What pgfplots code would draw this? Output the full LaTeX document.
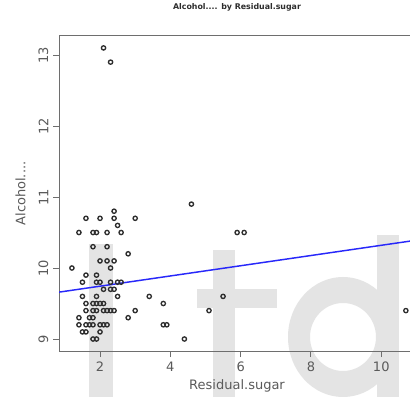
\documentclass[border=0pt]{standalone}
\usepackage{fontspec}
\setmainfont{DejaVu Sans}
\usepackage{pgfplots}
\pgfplotsset{compat=1.18}
\definecolor{wm}{RGB}{228,228,228}
\definecolor{axgray}{RGB}{110,110,110}
\definecolor{txtgray}{RGB}{90,90,90}
\definecolor{ptgray}{RGB}{45,45,45}
\definecolor{regblue}{RGB}{40,40,250}
\begin{document}
\begin{tikzpicture}
\useasboundingbox (0,0) rectangle (307.5pt,297pt);
\fill[white] (0,0) rectangle (307.5pt,297pt);
% watermark
\fill[wm] (66.75pt,-3pt) rectangle (84.75pt,114pt);
\fill[wm] (159.4pt,-3pt) rectangle (176.25pt,109.5pt);
\fill[wm] (147.5pt,66.2pt) rectangle (207.5pt,80pt);
\fill[wm] (282.5pt,-3pt) rectangle (299.5pt,120.75pt);
\fill[wm,even odd rule] (257.25pt,44.25pt) ellipse [x radius=41.25pt, y radius=45pt]
  (257.25pt,44.25pt) ellipse [x radius=24.75pt, y radius=25.5pt];
\begin{axis}[
  at={(44.25pt,33.75pt)}, anchor=south west,
  scale only axis, width=267pt, height=236.25pt,
  xmin=0.833, xmax=10.96, ymin=8.831, ymax=13.268,
  axis line style={axgray, line width=0.75pt},
  xtick={2,4,6,8,10}, ytick={9,10,11,12,13},
  xtick pos=bottom, ytick pos=left,
  tick align=outside, major tick length=4.5pt,
  tick style={axgray, line width=0.75pt},
  /pgf/number format/assume math mode=true,
  ticklabel style={font=\fontsize{9.75}{11}\selectfont, text=txtgray},
  yticklabel style={rotate=90, anchor=south},
  xlabel={Residual.sugar}, ylabel={Alcohol....},
  label style={font=\fontsize{9.75}{11}\selectfont, text=txtgray},
  xlabel style={at={(axis description cs:0.5,-0.111)}, anchor=center},
  ylabel style={at={(axis description cs:-0.108,0.5)}, anchor=center},
  title={Alcohol.... by Residual.sugar},
  title style={at={(axis description cs:0.5,1.0667)}, anchor=center, font=\bfseries\fontsize{5.9}{7}\selectfont, text=ptgray},
]
\addplot[only marks, mark=o, mark size=1.6pt, mark options={draw=ptgray, line width=1.0pt}] coordinates {
(2.1,13.1) (2.3,12.9)
(4.6,10.9) (5.9,10.5) (6.1,10.5)
(2.4,10.8)
(1.6,10.7) (2.0,10.7) (2.4,10.7) (3.0,10.7)
(2.5,10.6)
(1.4,10.5) (1.8,10.5) (1.9,10.5) (2.2,10.5) (2.6,10.5)
(1.8,10.3) (2.2,10.3)
(2.8,10.2)
(2.0,10.1) (2.2,10.1) (2.4,10.1)
(1.2,10.0) (2.3,10.0)
(1.6,9.9) (1.9,9.9)
(1.5,9.8) (1.9,9.8) (2.0,9.8) (2.3,9.8) (2.5,9.8) (2.6,9.8)
(2.1,9.7) (2.3,9.7) (2.4,9.7)
(1.5,9.6) (1.9,9.6) (2.5,9.6) (3.4,9.6) (5.5,9.6)
(1.6,9.5) (1.8,9.5) (1.9,9.5) (2.0,9.5) (2.1,9.5) (3.8,9.5)
(1.6,9.4) (1.8,9.4) (1.9,9.4) (2.1,9.4) (2.2,9.4) (2.3,9.4) (2.4,9.4) (3.0,9.4) (5.1,9.4) (10.7,9.4)
(1.4,9.3) (1.7,9.3) (1.8,9.3) (2.8,9.3)
(1.4,9.2) (1.6,9.2) (1.7,9.2) (1.8,9.2) (2.0,9.2) (2.1,9.2) (2.2,9.2) (3.8,9.2) (3.9,9.2)
(1.5,9.1) (1.6,9.1) (2.0,9.1)
(1.8,9.0) (1.9,9.0) (4.4,9.0)
};
\addplot[regblue, line width=1.1pt] coordinates {(0.833,9.66) (10.96,10.389)};
\end{axis}
\end{tikzpicture}
\end{document}
